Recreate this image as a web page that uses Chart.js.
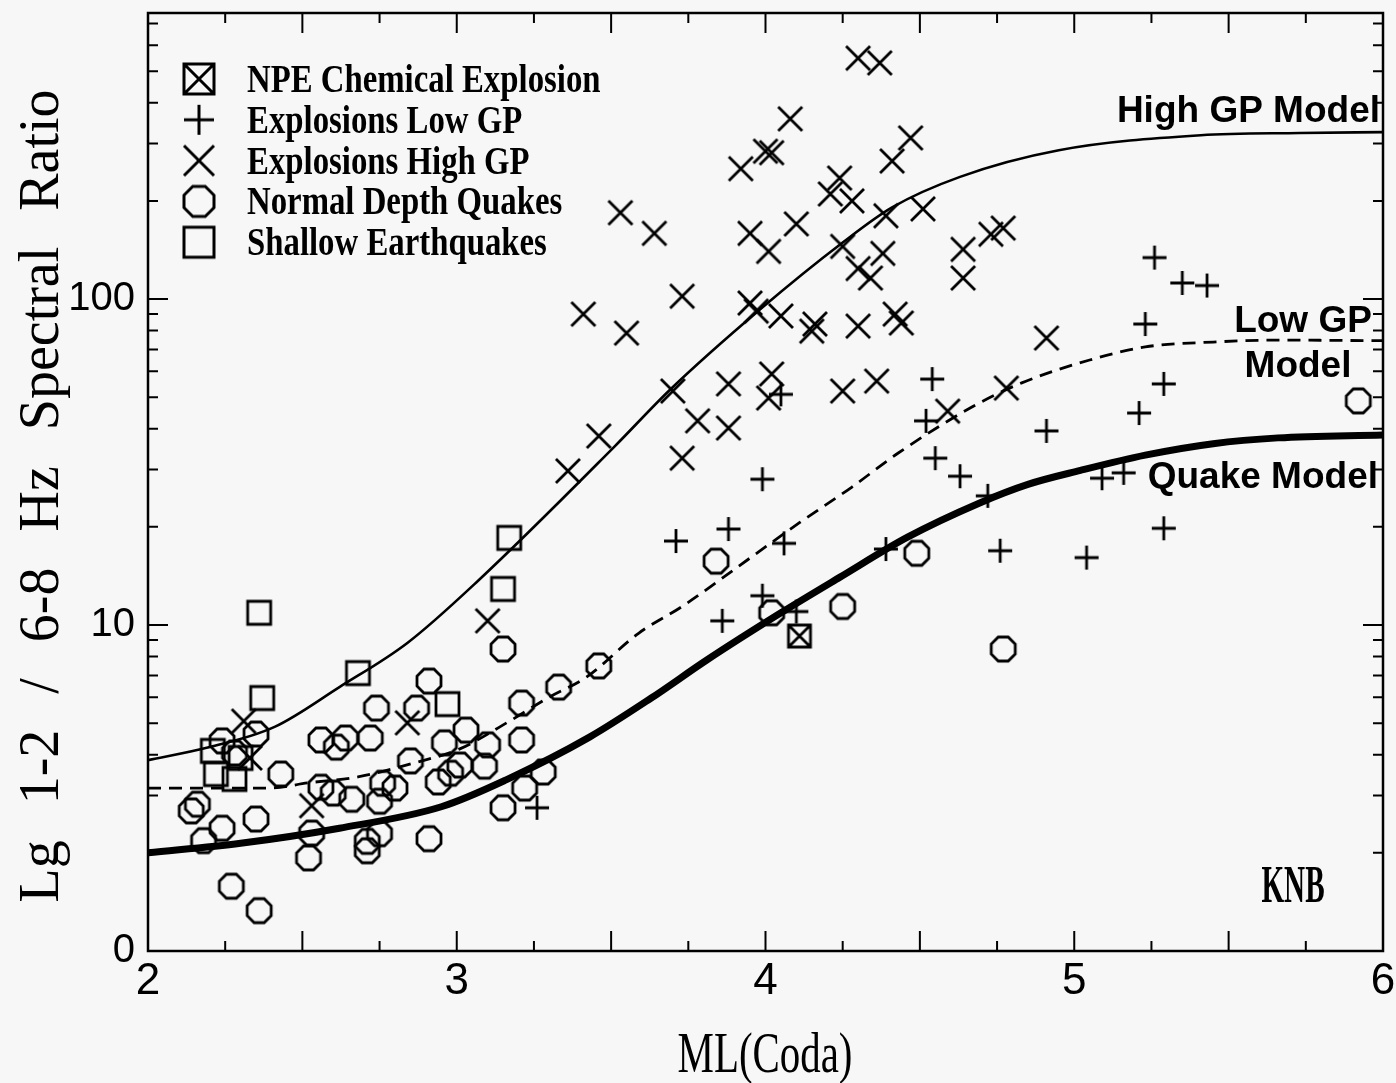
<!DOCTYPE html>
<html>
<head>
<meta charset="utf-8">
<script src="https://cdn.jsdelivr.net/npm/chart.js@4.4.0/dist/chart.umd.min.js"></script>
<style>
  html, body { margin: 0; padding: 0; background: #f7f7f7; }
  canvas { display: block; }
</style>
</head>
<body>
<canvas id="grafico" width="1396" height="1083"></canvas>
<script>
// ---- dados (x = ML(Coda), y = razao espectral) ----
const npeX = [4.11];
const npeY = [9.25];

const lowGpX = [3.26, 3.71, 3.86, 3.88, 3.99, 3.99, 4.05, 4.06, 4.10, 4.39, 4.52, 4.54, 4.55, 4.63,
                4.72, 4.76, 4.91, 5.04, 5.09, 5.16, 5.21, 5.23, 5.26, 5.29, 5.29, 5.35, 5.43];
const lowGpY = [2.75, 18.1, 10.3, 19.7, 28.0, 12.3, 51, 17.8, 11.0, 17.1, 42.3, 56.8, 32.5, 28.6,
                24.9, 16.9, 39.4, 16.1, 28.2, 29.3, 44.7, 83.8, 134, 54.9, 19.8, 112, 110];

const highGpX = [4.30, 4.37, 4.08, 4.47, 4.41, 4.00, 4.02, 3.92, 4.24, 4.21, 4.28, 4.51, 3.53, 3.64,
                 4.10, 3.95, 4.39, 4.01, 4.25, 4.38, 4.64, 4.73, 4.77, 4.64, 4.30, 4.34, 3.73, 3.95,
                 3.97, 4.05, 4.16, 4.15, 4.30, 4.42, 4.44, 3.41, 3.55, 4.91, 3.70, 3.88, 4.02, 4.01,
                 4.25, 4.36, 4.78, 4.59, 3.78, 3.88, 3.46, 3.73, 3.36, 3.10, 2.31, 2.33, 2.53, 2.84];
const highGpY = [548, 530, 357, 312, 265, 284, 281, 251, 235, 210, 200, 189, 184, 159,
                 170, 159, 180, 140, 145, 138, 142, 158, 165, 116, 124, 116, 102, 97.2,
                 91.8, 88.7, 83.8, 79.7, 82.6, 89.9, 84.4, 89.9, 78.6, 75.9, 52.2, 54.9, 58.9, 49.7,
                 52.2, 56.0, 53.3, 45.3, 42.3, 40.2, 38.0, 32.5, 29.7, 10.3, 5.07, 3.91, 2.79, 5.01];

const normalX = [5.92, 4.77, 4.49, 4.25, 3.84, 4.02, 3.46, 3.33, 3.21, 3.15, 2.91, 2.74, 2.87, 3.03,
                 3.10, 3.21, 2.96, 2.56, 2.61, 2.64, 2.72, 2.85, 2.94, 2.98, 3.01, 3.09, 2.76, 2.80,
                 2.75, 2.66, 2.60, 2.56, 3.22, 3.28, 3.15, 2.91, 2.71, 2.71, 2.75, 2.52, 2.53, 2.24,
                 2.28, 2.35, 2.43, 2.16, 2.14, 2.24, 2.35, 2.18, 2.27, 2.36];
const normalY = [48.7, 8.44, 16.6, 11.4, 15.7, 10.9, 7.49, 6.45, 5.76, 8.44, 6.73, 5.56, 5.56, 4.76,
                 4.29, 4.44, 4.35, 4.44, 4.22, 4.50, 4.50, 3.83, 3.30, 3.51, 3.72, 3.69, 3.27, 3.16,
                 2.88, 2.92, 3.05, 3.18, 3.16, 3.54, 2.75, 2.21, 2.03, 2.17, 2.29, 1.93, 2.30, 4.41,
                 4.05, 4.63, 3.49, 2.82, 2.69, 2.38, 2.54, 2.18, 1.58, 1.33];

const shallowX = [2.36, 3.17, 3.15, 2.68, 2.37, 2.97, 2.21, 2.22, 2.28, 2.30];
const shallowY = [10.9, 18.5, 12.9, 7.12, 5.97, 5.72, 4.11, 3.49, 3.37, 3.91];

// curvas dos modelos
const highModelX = [2.0, 2.19, 2.41, 2.62, 2.84, 3.07, 3.51, 3.69, 3.98, 4.25, 4.41, 4.63, 4.95, 5.41, 5.73, 6.0];
const highModelY = [3.85, 4.20, 4.87, 6.45, 8.81, 13.7, 35.2, 52.6, 92.5, 149, 191, 237, 286, 318, 323, 325];

const lowModelX = [2.0, 2.39, 2.52, 2.68, 2.86, 3.01, 3.16, 3.30, 3.42, 3.59, 3.73, 3.94, 4.11, 4.28,
                   4.43, 4.67, 4.83, 5.05, 5.23, 5.45, 5.66, 6.0];
const lowModelY = [3.16, 3.16, 3.28, 3.42, 3.77, 4.17, 5.0, 6.01, 6.92, 9.45, 11.4, 15.8, 20.6, 26.5,
                   33.7, 46.7, 55.3, 65.0, 71.3, 73.8, 74.8, 74.5];

const quakeModelX = [2.0, 2.30, 2.62, 2.95, 3.16, 3.43, 3.63, 3.81, 4.05, 4.24, 4.46, 4.69, 4.85, 5.02, 5.23, 5.45, 5.66, 6.0];
const quakeModelY = [2.0, 2.14, 2.38, 2.77, 3.35, 4.53, 5.97, 7.81, 10.9, 14.0, 18.6, 23.6, 27.0, 29.8, 33.2, 36.0, 37.5, 38.3];

const xTickValues = [2, 3, 4, 5, 6];
const yTickValues = [1, 10, 100];
const yTickLabels = ["0", "10", "100"];

// ---- marcadores desenhados num canvas ----
function criarMarcador(tipo, tam, lw) {
    const c = document.createElement("canvas");
    const lado = Math.ceil(tam + 2 * lw + 2);
    c.width = lado; c.height = lado;
    const ctx = c.getContext("2d");
    const m = lado / 2, r = tam / 2;
    ctx.strokeStyle = "#000";
    ctx.lineWidth = lw;
    ctx.beginPath();
    if (tipo === "octogono") {
        const R = r / Math.cos(Math.PI / 8);
        for (let i = 0; i < 8; i++) {
            const a = Math.PI / 8 + i * Math.PI / 4;
            const px = m + R * Math.cos(a), py = m + R * Math.sin(a);
            if (i === 0) ctx.moveTo(px, py); else ctx.lineTo(px, py);
        }
        ctx.closePath();
    } else if (tipo === "quadrado" || tipo === "npe") {
        ctx.rect(m - r, m - r, tam, tam);
        if (tipo === "npe") {
            ctx.moveTo(m - r, m - r); ctx.lineTo(m + r, m + r);
            ctx.moveTo(m + r, m - r); ctx.lineTo(m - r, m + r);
        }
    } else if (tipo === "mais") {
        ctx.moveTo(m - r, m); ctx.lineTo(m + r, m);
        ctx.moveTo(m, m - r); ctx.lineTo(m, m + r);
    } else if (tipo === "xis") {
        ctx.moveTo(m - r, m - r); ctx.lineTo(m + r, m + r);
        ctx.moveTo(m + r, m - r); ctx.lineTo(m - r, m + r);
    }
    ctx.stroke();
    return c;
}

function pontos(xs, ys) {
    return xs.map((x, i) => ({ x: x, y: ys[i] }));
}

function serie(label, xs, ys, tipo, tam) {
    return {
        label: label,
        data: pontos(xs, ys),
        pointStyle: criarMarcador(tipo, tam, 2.8),
        iconeLegenda: criarMarcador(tipo, 30, 3),
        pointRadius: 12,
        showLine: false
    };
}

function curva(label, xs, ys, largura, tracejado) {
    return {
        label: label,
        data: pontos(xs, ys),
        showLine: true,
        borderColor: "#000",
        borderWidth: largura,
        borderDash: tracejado,
        pointRadius: 0,
        cubicInterpolationMode: "monotone",
        fill: false
    };
}

// textos condensados
function texto(ctx, t, x, y, fonte, escala, alinh) {
    ctx.save();
    ctx.font = fonte;
    ctx.fillStyle = "#000";
    ctx.textAlign = alinh || "left";
    ctx.textBaseline = "alphabetic";
    ctx.translate(x, y);
    ctx.scale(escala, 1);
    ctx.fillText(t, 0, 0);
    ctx.restore();
}

const molduraPlugin = {
    id: "moldura",
    beforeDraw(chart) {
        const ctx = chart.ctx;
        ctx.save();
        ctx.fillStyle = "#f7f7f7";
        ctx.fillRect(0, 0, chart.width, chart.height);
        ctx.restore();
    },
    afterDraw(chart) {
        const ctx = chart.ctx;
        const a = chart.chartArea;
        const sx = chart.scales.x, sy = chart.scales.y;
        ctx.save();
        ctx.strokeStyle = "#000";
        ctx.lineWidth = 2.5;
        ctx.strokeRect(a.left, a.top, a.right - a.left, a.bottom - a.top);

        ctx.lineWidth = 2;
        ctx.beginPath();
        for (let v = sx.min; v <= sx.max + 1e-6; v += 0.25) {
            const px = sx.getPixelForValue(v);
            const len = Math.abs(v * 2 - Math.round(v * 2)) < 1e-6 ? 20 : 10;
            ctx.moveTo(px, a.bottom); ctx.lineTo(px, a.bottom - len);
            ctx.moveTo(px, a.top); ctx.lineTo(px, a.top + len);
        }
        for (let dec = 1; dec <= sy.max; dec *= 10) {
            for (let k = 1; k <= 9; k++) {
                const v = k * dec;
                if (v > sy.max) break;
                const py = sy.getPixelForValue(v);
                const len = k === 1 ? 20 : 10;
                ctx.moveTo(a.left, py); ctx.lineTo(a.left + len, py);
                ctx.moveTo(a.right, py); ctx.lineTo(a.right - len, py);
            }
        }
        ctx.stroke();

        // legenda
        const itens = chart.data.datasets.filter(d => d.iconeLegenda);
        itens.forEach((d, i) => {
            const cy = 79 + i * 40.8;
            const img = d.iconeLegenda;
            ctx.drawImage(img, 199 - img.width / 2, cy - img.height / 2);
            texto(ctx, d.label, 247, cy + 13, "bold 41px 'Liberation Serif'", 0.8);
        });

        // rotulos dos modelos
        const f = "bold 37px 'Liberation Sans'";
        texto(ctx, "High GP Model", 1380, 122, f, 1, "right");
        texto(ctx, "Low GP", 1303, 332, f, 1, "center");
        texto(ctx, "Model", 1298, 377, f, 1, "center");
        texto(ctx, "Quake Model", 1378, 488, f, 1, "right");
        texto(ctx, "KNB", 1293, 902, "bold 52px 'Liberation Serif'", 0.56, "center");

        // titulos dos eixos
        texto(ctx, "ML(Coda)", 765, 1072, "56px 'Liberation Serif'", 0.73, "center");
        ctx.save();
        ctx.translate(58, 496);
        ctx.rotate(-Math.PI / 2);
        ctx.font = "56px 'Liberation Serif'";
        ctx.wordSpacing = "22px";
        ctx.textAlign = "center";
        ctx.fillStyle = "#000";
        ctx.fillText("Lg 1-2 / 6-8 Hz Spectral Ratio", 0, 0);
        ctx.restore();
        ctx.restore();
    }
};

new Chart(document.getElementById("grafico"), {
    type: "scatter",
    data: {
        datasets: [
            serie("NPE Chemical Explosion", npeX, npeY, "npe", 22),
            serie("Explosions Low GP", lowGpX, lowGpY, "mais", 24),
            serie("Explosions High GP", highGpX, highGpY, "xis", 24),
            serie("Normal Depth Quakes", normalX, normalY, "octogono", 24),
            serie("Shallow Earthquakes", shallowX, shallowY, "quadrado", 23),
            curva("High GP Model", highModelX, highModelY, 2.6, []),
            curva("Low GP Model", lowModelX, lowModelY, 2.8, [13, 8]),
            curva("Quake Model", quakeModelX, quakeModelY, 7, [])
        ]
    },
    options: {
        responsive: false,
        animation: false,
        layout: { padding: { left: 0, right: 12, top: 12, bottom: 0 } },
        plugins: {
            legend: { display: false },
            tooltip: { enabled: false }
        },
        scales: {
            x: {
                type: "linear",
                min: 2,
                max: 6,
                afterFit(scale) {
                    scale.height = 132;
                    scale.paddingLeft = 0;
                    scale.paddingRight = 0;
                },
                afterBuildTicks(scale) { scale.ticks = xTickValues.map(v => ({ value: v })); },
                grid: { display: false, drawTicks: false },
                border: { display: false },
                ticks: {
                    padding: 4,
                    color: "#000",
                    font: { family: "'Liberation Sans'", size: 44 },
                    autoSkip: false
                }
            },
            y: {
                type: "logarithmic",
                min: 1,
                max: 754,
                afterFit(scale) {
                    scale.width = 148;
                    scale.paddingTop = 0;
                    scale.paddingBottom = 0;
                },
                afterBuildTicks(scale) { scale.ticks = yTickValues.map(v => ({ value: v })); },
                grid: { display: false, drawTicks: false },
                border: { display: false },
                ticks: {
                    padding: 13,
                    color: "#000",
                    font: { family: "'Liberation Sans'", size: 40 },
                    autoSkip: false,
                    callback: function (value) {
                        const i = yTickValues.findIndex(v => Math.abs(v - value) < 1e-6);
                        return i >= 0 ? yTickLabels[i] : "";
                    }
                }
            }
        }
    },
    plugins: [molduraPlugin]
});
</script>
</body>
</html>
